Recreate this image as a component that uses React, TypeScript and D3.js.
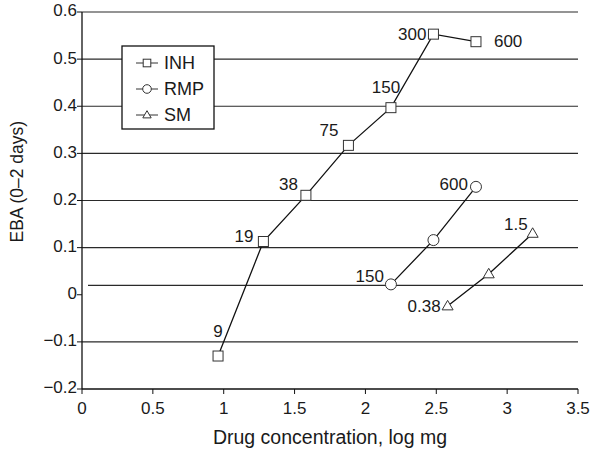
import * as d3 from "d3";

// INH (isoniazid), doses in mg
const inhDose = ["9", "19", "38", "75", "150", "300", "600"];
const inhLogMg = [0.96, 1.28, 1.58, 1.88, 2.18, 2.48, 2.78];
const inhEba = [-0.13, 0.113, 0.211, 0.317, 0.397, 0.553, 0.537];

// RMP (rifampicin)
const rmpDose = ["150", "", "600"];
const rmpLogMg = [2.18, 2.48, 2.78];
const rmpEba = [0.022, 0.116, 0.229];

// SM (streptomycin), doses in g
const smDose = ["0.38", "", "1.5"];
const smLogMg = [2.58, 2.87, 3.18];
const smEba = [-0.024, 0.044, 0.13];

const xTicks = [0, 0.5, 1, 1.5, 2, 2.5, 3, 3.5];
const yTicks = [-0.2, -0.1, 0, 0.1, 0.2, 0.3, 0.4, 0.5, 0.6];
const gridValues = [-0.1, 0.1, 0.2, 0.3, 0.4, 0.5, 0.6];
const baselineEba = 0.02;

// where each dose label sits relative to its marker: [dx, dy, anchor]
const inhLabelPos = [
  [0, -23, "middle"],
  [-10, -4, "end"],
  [-8, -10, "end"],
  [-10, -14, "end"],
  [-5, -19, "middle"],
  [-7, 1, "end"],
  [18, 1, "start"],
];
const rmpLabelPos = [
  [-7, -7, "end"],
  [0, 0, "end"],
  [-8, -1, "end"],
];
const smLabelPos = [
  [-7, 1, "end"],
  [0, 0, "end"],
  [-5, -8, "end"],
];

const width = 600;
const height = 454;
const font = "'Liberation Sans', Arial, sans-serif";
const ink = "#1a1a1a";

const x = d3.scaleLinear().domain([0, 3.5]).range([82, 578]);
const y = d3.scaleLinear().domain([-0.2, 0.6]).range([389, 12]);

const Marker = ({ shape, cx, cy, s }) => {
  if (shape === "square")
    return (
      <rect x={cx - s} y={cy - s} width={s * 2} height={s * 2} fill="#fff" stroke="#333" strokeWidth={1} />
    );
  if (shape === "circle")
    return <circle cx={cx} cy={cy} r={s + 0.5} fill="#fff" stroke="#333" strokeWidth={1} />;
  const h = s * 1.9;
  return (
    <path
      d={`M${cx},${cy - h * 0.6}L${cx + s * 1.1},${cy + h * 0.4}L${cx - s * 1.1},${cy + h * 0.4}Z`}
      fill="#fff"
      stroke="#333"
      strokeWidth={1}
    />
  );
};

const Series = ({ xs, ys, labels, pos, shape }) => {
  const pts = xs.map((v, i) => [x(v), y(ys[i])]);
  const line = d3.line();
  return (
    <g>
      <path d={line(pts)} fill="none" stroke="#111" strokeWidth={1.3} />
      {pts.map((p, i) => (
        <Marker key={i} shape={shape} cx={p[0]} cy={p[1]} s={5} />
      ))}
      {pts.map((p, i) =>
        labels[i] ? (
          <text
            key={"l" + i}
            x={p[0] + pos[i][0]}
            y={p[1] + pos[i][1]}
            textAnchor={pos[i][2]}
            dominantBaseline="middle"
            fontSize={17}
            fill={ink}
          >
            {labels[i]}
          </text>
        ) : null
      )}
    </g>
  );
};

const legendItems = [
  ["INH", "square"],
  ["RMP", "circle"],
  ["SM", "triangle"],
];

export default function App() {
  return (
    <svg
      width={width}
      height={height}
      style={{ position: "absolute", left: 0, top: 0, background: "#fff" }}
      fontFamily={font}
    >
      {/* grid */}
      {gridValues.map((v) => (
        <line key={v} x1={x(0)} x2={x(3.5)} y1={y(v)} y2={y(v)} stroke="#2a2a2a" strokeWidth={1.2} />
      ))}
      <line x1={88} x2={583} y1={y(baselineEba)} y2={y(baselineEba)} stroke="#2a2a2a" strokeWidth={1.2} />

      {/* axes */}
      <line x1={x(0)} x2={x(0)} y1={y(0.6)} y2={y(-0.2)} stroke="#111" strokeWidth={1.3} />
      <line x1={x(0)} x2={x(3.5)} y1={y(-0.2)} y2={y(-0.2)} stroke="#111" strokeWidth={1.3} />
      {yTicks.map((v) => (
        <g key={v}>
          <line x1={x(0) - 5} x2={x(0)} y1={y(v)} y2={y(v)} stroke="#111" />
          <text x={x(0) - 5} y={y(v)} textAnchor="end" dominantBaseline="middle" fontSize={17} fill={ink}>
            {v === 0 ? "0" : d3.format(".1f")(v).replace("-", "\u2212")}
          </text>
        </g>
      ))}
      {xTicks.map((v) => (
        <g key={v}>
          <line x1={x(v)} x2={x(v)} y1={y(-0.2)} y2={y(-0.2) + 5} stroke="#111" />
          <text x={x(v)} y={y(-0.2) + 21} textAnchor="middle" dominantBaseline="middle" fontSize={17} fill={ink}>
            {v}
          </text>
        </g>
      ))}
      <text x={330} y={439} textAnchor="middle" dominantBaseline="middle" fontSize={19.5} fill={ink}>
        Drug concentration, log mg
      </text>
      <text
        transform={`translate(18,${y(0.24)}) rotate(-90)`}
        textAnchor="middle"
        dominantBaseline="middle"
        fontSize={17.5}
        fill={ink}
      >
        EBA (0–2 days)
      </text>

      {/* legend */}
      <rect x={122} y={46} width={92} height={83} fill="#fff" stroke="#111" strokeWidth={1.3} />
      {legendItems.map(([name, shape], i) => (
        <g key={name}>
          <line x1={136} x2={158} y1={63 + i * 26} y2={63 + i * 26} stroke="#333" />
          <Marker shape={shape} cx={147} cy={63 + i * 26} s={3.8} />
          <text x={164} y={64 + i * 26} dominantBaseline="middle" fontSize={18} fill={ink}>
            {name}
          </text>
        </g>
      ))}

      <Series xs={inhLogMg} ys={inhEba} labels={inhDose} pos={inhLabelPos} shape="square" />
      <Series xs={rmpLogMg} ys={rmpEba} labels={rmpDose} pos={rmpLabelPos} shape="circle" />
      <Series xs={smLogMg} ys={smEba} labels={smDose} pos={smLabelPos} shape="triangle" />
    </svg>
  );
}
